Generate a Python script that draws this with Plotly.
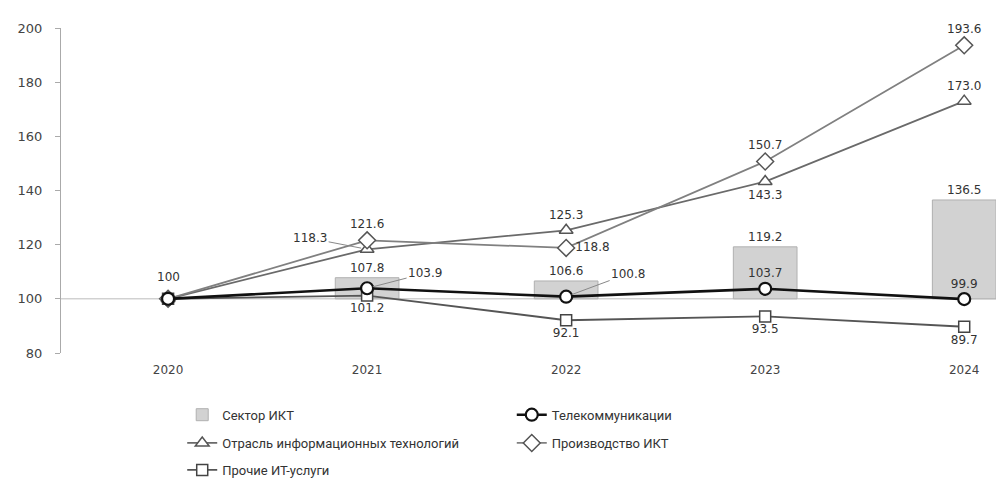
import plotly.graph_objects as go

years = ["2020", "2021", "2022", "2023", "2024"]
ict_sector = [100, 107.8, 106.6, 119.2, 136.5]
telecom = [100, 103.9, 100.8, 103.7, 99.9]
it_industry = [100, 118.3, 125.3, 143.3, 173.0]
ict_production = [100, 121.6, 118.8, 150.7, 193.6]
other_it = [100, 101.2, 92.1, 93.5, 89.7]
BASE = 100

names = ["Сектор ИКТ", "Телекоммуникации", "Отрасль информационных технологий",
         "Производство ИКТ", "Прочие ИТ-услуги"]

LBL = dict(family="DejaVu Sans", size=12, color="#333")

def fmt(v):
    return f"{v:.1f}"

fig = go.Figure()

# bars (from base 100), 2021-2024
fig.add_trace(go.Bar(
    x=years[1:], y=[v - BASE for v in ict_sector[1:]], base=BASE,
    width=0.32, marker=dict(color="#d2d2d2", line=dict(color="#b0b0b0", width=1)),
    text=[fmt(v) for v in ict_sector[1:]], textposition="outside",
    textfont=LBL, cliponaxis=False, name=names[0], legend="legend"))

def line_trace(vals, name, symbol, color, lw, msize, mlw, mcolor, show, pos, legend):
    return go.Scatter(
        x=years, y=vals, mode="lines+markers+text", name=name,
        line=dict(color=color, width=lw),
        marker=dict(symbol=symbol, size=msize, color="white",
                    line=dict(color=mcolor, width=mlw)),
        text=[fmt(v) if s else "" for v, s in zip(vals, show)],
        textposition=pos, textfont=LBL, cliponaxis=False, legend=legend)

fig.add_trace(line_trace(it_industry, names[2], "triangle-up", "#6a6a6a", 1.8, 12, 1.5, "#555",
                         [0, 0, 1, 1, 1],
                         ["top center", "top center", "top center", "bottom center", "top center"],
                         "legend3"))
fig.add_trace(line_trace(ict_production, names[3], "diamond", "#808080", 1.8, 13, 1.5, "#555",
                         [0, 1, 1, 1, 1],
                         ["top center", "top center", "middle right", "top center", "top center"],
                         "legend4"))
fig.add_trace(line_trace(other_it, names[4], "square", "#555555", 1.8, 11, 1.5, "#444",
                         [0, 1, 1, 1, 1],
                         ["bottom center"] * 5, "legend5"))
fig.add_trace(line_trace(telecom, names[1], "circle", "#111111", 2.6, 12, 2.2, "#111",
                         [0, 0, 0, 1, 1],
                         ["top center"] * 5, "legend2"))

# common start value label for 2020
fig.add_annotation(x=0, y=telecom[0], xref="x", yref="y", text=str(telecom[0]),
                   showarrow=False, yshift=22, font=LBL)

# leader-line labels (x given as category index)
leaders = [
    (1, it_industry[1], -57, -11),
    (1, telecom[1], 58, -15),
    (2, telecom[2], 62, -23),
]
for xi, y, ax, ay in leaders:
    fig.add_annotation(x=xi, y=y, xref="x", yref="y", text=fmt(y), showarrow=True,
                       arrowhead=0, arrowwidth=1, arrowcolor="#888", ax=ax, ay=ay,
                       standoff=6, font=LBL)

# baseline at 100
fig.add_shape(type="line", xref="paper", x0=0, x1=1, yref="y", y0=BASE, y1=BASE,
              line=dict(color="#bbbbbb", width=1), layer="below")

leg_common = dict(orientation="v", xanchor="left", yanchor="middle",
                  font=dict(family="Roboto", size=13, color="#333"),
                  bgcolor="rgba(0,0,0,0)")
lx, rx = 0.128, 0.476
r1, r2, r3 = -0.19, -0.277, -0.36
fig.update_layout(
    width=1004, height=488,
    margin=dict(l=53, r=4, t=20, b=143),
    plot_bgcolor="white", paper_bgcolor="white",
    showlegend=True,
    legend=dict(x=lx, y=r1, **leg_common),
    legend2=dict(x=rx, y=r1, **leg_common),
    legend3=dict(x=lx, y=r2, **leg_common),
    legend4=dict(x=rx, y=r2, **leg_common),
    legend5=dict(x=lx, y=r3, **leg_common),
    xaxis=dict(type="category", categoryorder="array", categoryarray=years,
               range=[-0.538, 4.22], showgrid=False, zeroline=False,
               showline=False, ticks="", ticklabelstandoff=8,
               tickfont=dict(family="DejaVu Sans", size=12, color="#444")),
    yaxis=dict(range=[80, 200], tickvals=[80, 100, 120, 140, 160, 180, 200],
               showgrid=False, zeroline=False, showline=True, linecolor="#aaa",
               linewidth=1, ticks="outside", ticklen=5, tickcolor="#aaa",
               ticklabelstandoff=10,
               tickfont=dict(family="DejaVu Sans", size=13, color="#444")),
)

fig.write_html("out.html")
